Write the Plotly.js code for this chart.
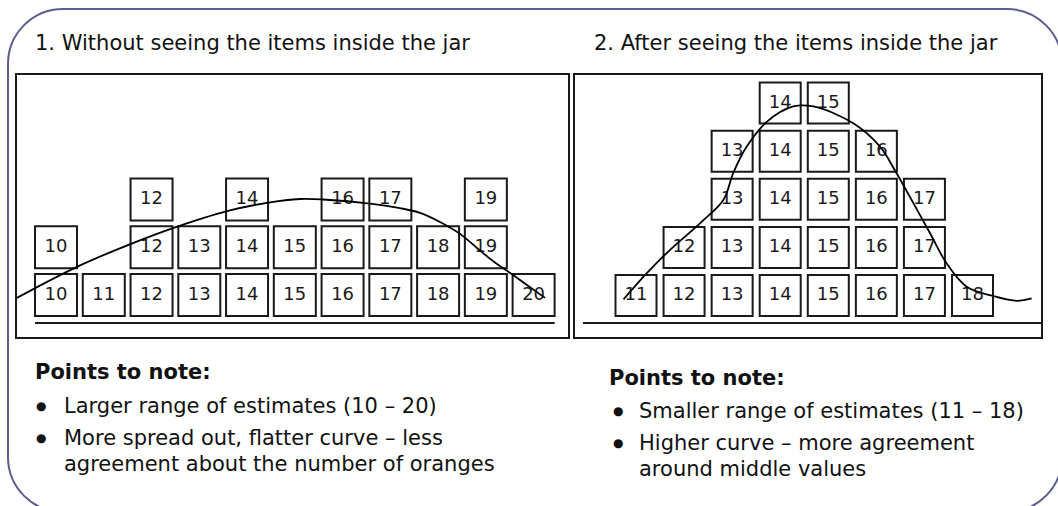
<!DOCTYPE html>
<html>
<head>
<meta charset="utf-8">
<script src="https://cdn.plot.ly/plotly-3.0.1.min.js"></script>
<style>html,body{margin:0;padding:0;background:#fff;}#chart{width:1058px;height:506px;}</style>
</head>
<body>
<div id="chart"></div>
<script>
// ---- data ----
const panel1Title = "1. Without seeing the items inside the jar";
const panel2Title = "2. After seeing the items inside the jar";
const estimates1 = [10, 11, 12, 13, 14, 15, 16, 17, 18, 19, 20];
const counts1    = [2, 1, 3, 2, 3, 2, 3, 3, 2, 3, 1];
const estimates2 = [11, 12, 13, 14, 15, 16, 17, 18];
const counts2    = [1, 2, 4, 5, 5, 4, 3, 1];
const curve1X = [9.18, 10.44, 11.57, 12.45, 13.60, 14.42, 15.11, 15.59, 16.62, 17.20, 17.62, 18.04, 18.46, 18.82, 19.15, 19.51, 19.86, 20.24];
const curve1Y = [0.94, 1.59, 2.07, 2.40, 2.76, 2.93, 3.01, 3.00, 2.91, 2.82, 2.72, 2.53, 2.28, 1.98, 1.71, 1.46, 1.21, 0.94];
const curve2X = [10.74, 11.22, 11.71, 12.33, 12.82, 13.02, 13.30, 13.72, 14.27, 14.69, 15.52, 16.08, 16.42, 16.77, 17.12, 17.46, 17.88, 18.43, 18.92, 19.23];
const curve2Y = [0.92, 1.46, 1.95, 2.50, 2.99, 3.54, 4.09, 4.61, 4.93, 4.93, 4.58, 4.09, 3.54, 2.92, 2.29, 1.67, 1.18, 0.99, 0.89, 0.94];
const notes1 = ["Larger range of estimates (10 \u2013 20)", "More spread out, flatter curve \u2013 less", "agreement about the number of oranges"];
const notes2 = ["Smaller range of estimates (11 \u2013 18)", "Higher curve \u2013 more agreement", "around middle values"];
const notesHeading = "Points to note:";

// ---- helpers ----
const W = 1058, H = 506;
const FONT = "DejaVu Sans, Verdana, sans-serif";
const INK = "#1a1a1a";
function px(x){ return x / W; }
function py(y){ return 1 - y / H; }

function stack(vals, counts){
  const xs = [], ys = [], ts = [];
  vals.forEach((v, i) => {
    for (let k = 1; k <= counts[i]; k++){ xs.push(v); ys.push(k); ts.push(String(v)); }
  });
  return {xs, ys, ts};
}
const s1 = stack(estimates1, counts1);
const s2 = stack(estimates2, counts2);

const boxTrace = (s, xa, ya, size) => ({
  type: "scatter", mode: "markers+text", x: s.xs, y: s.ys, text: s.ts,
  xaxis: xa, yaxis: ya, cliponaxis: false, hoverinfo: "skip",
  textposition: "middle center",
  textfont: {family: FONT, size: 18, color: INK},
  marker: {symbol: "square", size: size, color: "#ffffff", line: {color: INK, width: 2}}
});
const curveTrace = (x, y, xa, ya) => ({
  type: "scatter", mode: "lines", x: x, y: y, xaxis: xa, yaxis: ya,
  line: {shape: "spline", smoothing: 1, color: "#000", width: 1.8}, hoverinfo: "skip", cliponaxis: true
});

const data = [
  boxTrace(s1, "x", "y", 42),
  curveTrace(curve1X, curve1Y, "x", "y"),
  boxTrace(s2, "x2", "y2", 41),
  curveTrace(curve2X, curve2Y, "x2", "y2")
];

const axBase = {showline: true, mirror: true, linecolor: INK, linewidth: 2, showgrid: false,
  zeroline: false, showticklabels: false, ticks: "", fixedrange: true};

// outer rounded border (pixels -> paper)
const bx0 = 8, bx1 = 1062, by0 = 9, by1 = 512, r = 55, k = 0.5523 * r;
function P(x, y){ return px(x).toFixed(5) + "," + py(y).toFixed(5); }
const borderPath = "M" + P(bx0 + r, by0) + " L" + P(bx1 - r, by0) +
  " C" + P(bx1 - r + k, by0) + " " + P(bx1, by0 + r - k) + " " + P(bx1, by0 + r) +
  " L" + P(bx1, by1 - r) +
  " C" + P(bx1, by1 - r + k) + " " + P(bx1 - r + k, by1) + " " + P(bx1 - r, by1) +
  " L" + P(bx0 + r, by1) +
  " C" + P(bx0 + r - k, by1) + " " + P(bx0, by1 - r + k) + " " + P(bx0, by1 - r) +
  " L" + P(bx0, by0 + r) +
  " C" + P(bx0, by0 + r - k) + " " + P(bx0 + r - k, by0) + " " + P(bx0 + r, by0) + " Z";

const half1 = 0.44;
const shapes = [
  {type: "path", xref: "paper", yref: "paper", path: borderPath, line: {color: "#5b5e8e", width: 2}, layer: "below"},
  {type: "line", xref: "x", yref: "y", x0: Math.min(...estimates1) - half1, x1: Math.max(...estimates1) + half1,
    y0: 0.414, y1: 0.414, line: {color: INK, width: 2}},
  {type: "line", xref: "x2", yref: "y2", x0: 9.897, x1: 19.425, y0: 0.428, y1: 0.428, line: {color: INK, width: 2}}
];

const ann = [];
function txt(text, x, y, opts){
  ann.push(Object.assign({text: text, xref: "paper", yref: "paper", x: px(x), y: py(y),
    xanchor: "left", yanchor: "middle", showarrow: false,
    font: {family: FONT, size: 21, color: "#111"}}, opts || {}));
}
txt(panel1Title, 33, 43);
txt(panel2Title, 592, 43);
txt("<b>" + notesHeading + "</b>", 33, 372);
txt("<b>" + notesHeading + "</b>", 607, 378);
const rows1 = [406, 438, 464], rows2 = [411, 443, 469];
notes1.forEach((t, i) => txt(t, 62, rows1[i]));
notes2.forEach((t, i) => txt(t, 637, rows2[i]));
[0, 1].forEach(i => {
  txt("\u25CF", 34, rows1[i], {font: {family: FONT, size: 12, color: "#111"}});
  txt("\u25CF", 611, rows2[i], {font: {family: FONT, size: 12, color: "#111"}});
});

const layout = {
  width: W, height: H, margin: {l: 0, r: 0, t: 0, b: 0},
  paper_bgcolor: "#fff", plot_bgcolor: "#fff", showlegend: false,
  xaxis: Object.assign({}, axBase, {domain: [px(17), px(568)], range: [9.183, 20.72]}),
  yaxis: Object.assign({}, axBase, {domain: [py(337), py(75)], range: [0.1204, 5.607]}),
  xaxis2: Object.assign({}, axBase, {domain: [px(575), px(1041)], range: [9.731, 19.425], anchor: "y2"}),
  yaxis2: Object.assign({}, axBase, {domain: [py(337), py(75)], range: [0.137, 5.584], anchor: "x2"}),
  shapes: shapes, annotations: ann
};
Plotly.newPlot("chart", data, layout, {staticPlot: true, displayModeBar: false});
</script>
</body>
</html>
